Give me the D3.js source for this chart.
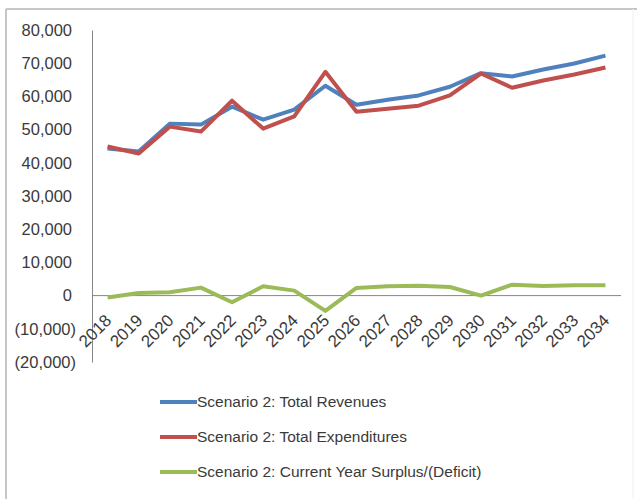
<!DOCTYPE html>
<html>
<head>
<meta charset="utf-8">
<script src="https://cdn.jsdelivr.net/npm/d3@7/dist/d3.min.js"></script>
<style>
  html, body { margin: 0; padding: 0; background: #fff; }
  svg { display: block; }
  text { font-family: "Liberation Sans", Arial, sans-serif; fill: #3a3a3a; }
</style>
</head>
<body>
<svg id="chart" width="637" height="499"></svg>
<script>
const years = ["2018","2019","2020","2021","2022","2023","2024","2025","2026","2027","2028","2029","2030","2031","2032","2033","2034"];
const revenues = [44300, 43400, 51800, 51500, 56900, 53000, 56000, 63200, 57500, 59000, 60300, 62900, 67000, 66000, 68100, 69900, 72300];
const expenditures = [44900, 42800, 50900, 49400, 58700, 50300, 54000, 67400, 55400, 56300, 57200, 60300, 66900, 62600, 64800, 66600, 68700];
const surplus = [-600, 800, 1000, 2400, -2000, 2800, 1500, -4600, 2300, 2800, 3000, 2600, 0, 3300, 2900, 3100, 3100];
const yTicks = [80000, 70000, 60000, 50000, 40000, 30000, 20000, 10000, 0, -10000, -20000];
const seriesNames = ["Scenario 2: Total Revenues", "Scenario 2: Total Expenditures", "Scenario 2: Current Year Surplus/(Deficit)"];
const seriesColors = ["#4F81BD", "#C0504D", "#9BBB59"];

const svg = d3.select("#chart");

// outer frame (cropped chart border)
svg.append("line").attr("x1", 6).attr("x2", 637).attr("y1", 9).attr("y2", 9).attr("stroke", "#c6c6c6").attr("stroke-width", 2);
svg.append("line").attr("x1", 6).attr("x2", 6).attr("y1", 9).attr("y2", 499).attr("stroke", "#c6c6c6").attr("stroke-width", 2);
svg.append("line").attr("x1", 633).attr("x2", 633).attr("y1", 9).attr("y2", 499).attr("stroke", "#f0f0f0").attr("stroke-width", 1);

const x = d3.scaleBand().domain(years).range([92, 621]);
const y = d3.scaleLinear().domain([-20000, 80000]).range([362, 30]);

const fmt = v => v === 0 ? "0" : (v < 0 ? "(" + d3.format(",")(-v) + ")" : d3.format(",")(v));

// y axis
const yAxis = d3.axisLeft(y).tickValues(yTicks).tickSize(0).tickFormat(fmt);
const gy = svg.append("g").attr("transform", "translate(92,0)").call(yAxis);
gy.select(".domain").attr("stroke", "#868686").attr("stroke-width", 1);
gy.selectAll("text")
  .attr("x", d => d < 0 ? -16 : -20)
  .attr("font-size", "16.5px")
  .attr("font-family", "Liberation Sans, Arial, sans-serif")
  .attr("fill", "#3a3a3a");

// zero line / category axis
svg.append("line")
  .attr("x1", 92).attr("x2", 621)
  .attr("y1", y(0)).attr("y2", y(0))
  .attr("stroke", "#868686").attr("stroke-width", 1);

// x labels
const xAxis = d3.axisBottom(x).tickSize(0);
const gx = svg.append("g").attr("transform", `translate(0,${y(0)})`).call(xAxis);
gx.select(".domain").remove();
gx.selectAll("text")
  .attr("font-size", "17px")
  .attr("font-family", "Liberation Sans, Arial, sans-serif")
  .attr("fill", "#3a3a3a")
  .attr("text-anchor", "end")
  .attr("dy", null)
  .attr("y", 0)
  .attr("transform", "translate(5,26) rotate(-45)");

// lines
const line = d3.line().x((d, i) => x(years[i]) + x.bandwidth() / 2).y(d => y(d));
[revenues, expenditures, surplus].forEach((s, i) => {
  svg.append("path").datum(s)
    .attr("fill", "none")
    .attr("stroke", seriesColors[i])
    .attr("stroke-width", 4)
    .attr("stroke-linejoin", "round")
    .attr("d", line);
});

// legend
const legendY = [402, 437, 472];
seriesNames.forEach((name, i) => {
  svg.append("line")
    .attr("x1", 160).attr("x2", 197)
    .attr("y1", legendY[i]).attr("y2", legendY[i])
    .attr("stroke", seriesColors[i]).attr("stroke-width", 4);
  svg.append("text")
    .attr("x", 197).attr("y", legendY[i])
    .attr("dy", "0.35em")
    .attr("font-size", "15.5px")
    .text(name);
});
</script>
</body>
</html>
